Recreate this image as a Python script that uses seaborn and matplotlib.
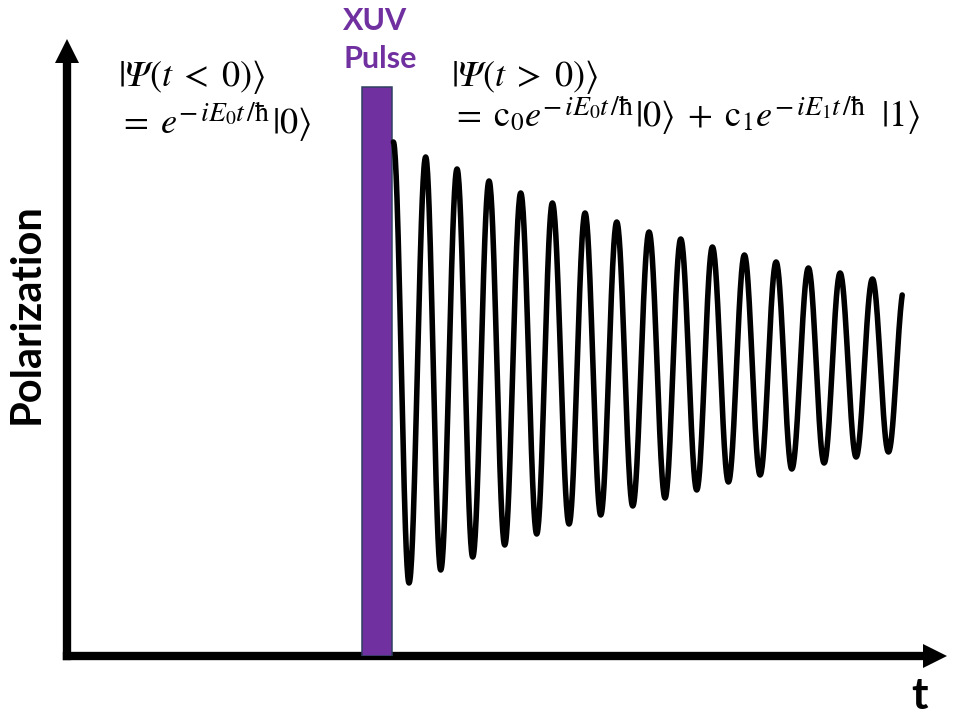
import numpy as np
import pandas as pd
import matplotlib
matplotlib.use("Agg")
import matplotlib.pyplot as plt
import seaborn as sns

# Extrema of the polarization response after the pulse (time in oscillation periods)
peak_t = [0.51, 1.52, 2.50, 3.50, 4.49, 5.48, 6.50, 7.49, 8.50, 9.49, 10.48,
          11.48, 12.47, 13.48, 14.47, 15.48]
peak_p = [5.14, 4.99, 4.87, 4.75, 4.63, 4.53, 4.43, 4.34, 4.24, 4.17, 4.09,
          4.01, 3.94, 3.88, 3.83, 3.77]
trough_t = [1.00, 1.99, 2.99, 3.99, 4.99, 6.00, 6.99, 7.99, 9.00, 9.99, 10.98,
            11.97, 12.96, 13.97, 14.97, 15.98]
trough_p = [0.73, 0.86, 0.99, 1.11, 1.22, 1.32, 1.41, 1.50, 1.58, 1.66, 1.74,
            1.81, 1.87, 1.93, 1.99, 2.04]
end_t, end_p = 16.41, 3.61

# XUV pulse (centred at t = 0)
pulse_t = [0.0]
pulse_height = [5.69]
pulse_width = 0.96

axis_label_y = "Polarization"
axis_label_x = "t"
pulse_label = ["XUV", "Pulse"]

PSI = "\U0001D6F9"          # mathematical italic capital psi
HBAR = r"\mathrm{ħ}"
EXP0 = r"$-\,iE_0t\,/" + HBAR + "$"
EXP1 = r"$-\,iE_1t\,/" + HBAR + "$"
# each piece: (mathtext, size class) where "b" is base text, "s" is exponent
state_before = [
    [(r"$|" + PSI + r"(t\;<\;0)\rangle$", "b")],
    [(r"$=\;e$", "b"), (EXP0, "s"), (r"$|0\rangle$", "b")],
]
state_after = [
    [(r"$|" + PSI + r"(t\;>\;0)\rangle$", "b")],
    [(r"$=\;\mathrm{c}_0e$", "b"), (EXP0, "s"),
     (r"$|0\rangle\;+\;\mathrm{c}_1e$", "b"),
     (EXP1, "s"), (r"$\;\;|1\rangle$", "b")],
]

PURPLE = "#7030A0"

sns.set_theme(style="white")
plt.rcParams["font.family"] = ["Lato", "DejaVu Sans"]
plt.rcParams["mathtext.fontset"] = "stix"

W, H = 956, 717
fig = plt.figure(figsize=(W / 100, H / 100), dpi=100)


def fx(px):
    return px / W


def fy(py):
    return 1 - py / H


ax = fig.add_axes([fx(67), fy(656), fx(923) - fx(67), fy(62.7) - fy(656)])
ax.set_xlim(-9.6875, 17.06)
ax.set_ylim(0, 5.933)
ax.set_xticks([])
ax.set_yticks([])
sns.despine(ax=ax, top=True, right=True)
for side in ("left", "bottom"):
    ax.spines[side].set_linewidth(6)
    ax.spines[side].set_color("black")
    ax.spines[side].set_capstyle("projecting")
ax.patch.set_alpha(0)

# Arrowheads on the two axes
ax.plot([-9.6875], [6.055], marker="^", ms=17.3, color="black",
        mew=0, clip_on=False)
ax.plot([17.45], [0.0], marker=">", ms=17.3, color="black",
        mew=0, clip_on=False)

# Pulse bar
ax.bar(pulse_t, pulse_height, width=pulse_width, color=PURPLE,
       edgecolor="#2F4060", linewidth=1.1, zorder=3)

# Build the oscillation as half-cosine arcs between successive extrema
ext_t, ext_p = [], []
for i in range(len(peak_t)):
    ext_t += [peak_t[i], trough_t[i]]
    ext_p += [peak_p[i], trough_p[i]]

ts, ps = [], []
s = np.linspace(0, 1, 40)
for i in range(len(ext_t) - 1):
    t0, t1 = ext_t[i], ext_t[i + 1]
    p0, p1 = ext_p[i], ext_p[i + 1]
    ts.append(t0 + s * (t1 - t0))
    ps.append(p0 + (p1 - p0) * (1 - np.cos(np.pi * s)) / 2)
# final partial rise up to the last point
half = np.median(np.diff(ext_t))
frac = (end_t - ext_t[-1]) / half
rise = (end_p - ext_p[-1]) / ((1 - np.cos(np.pi * frac)) / 2)
ts.append(ext_t[-1] + s * (end_t - ext_t[-1]))
ps.append(ext_p[-1] + rise * (1 - np.cos(np.pi * s * frac)) / 2)

curve = pd.DataFrame({"t": np.concatenate(ts), "P": np.concatenate(ps)})
sns.lineplot(data=curve, x="t", y="P", ax=ax, color="black", lw=4,
             sort=False, estimator=None, zorder=4)
ax.set_xlabel("")
ax.set_ylabel("")

# Labels
fig.text(fx(27), fy(314), axis_label_y, rotation=90, ha="center",
         va="center", fontsize=30, fontweight="bold", color="black")
fig.text(fx(920), fy(696), axis_label_x, ha="center", va="center",
         fontsize=32, fontweight="bold", color="black")
fig.text(fx(343), fy(30), pulse_label[0], ha="left", va="baseline",
         fontsize=22, fontweight="bold", color=PURPLE)
fig.text(fx(343), fy(68), pulse_label[1], ha="left", va="baseline",
         fontsize=22, fontweight="bold", color=PURPLE)

# State equations, laid out piece by piece so the exponents stay large
renderer = fig.canvas.get_renderer()
SIZES = {"b": 26, "s": 20}


def write_line(x_px, base_px, pieces, lift):
    x = x_px
    for txt, kind in pieces:
        dy = lift if kind == "s" else 0
        t = fig.text(fx(x), fy(base_px - dy), txt, ha="left",
                     va="baseline", fontsize=SIZES[kind], color="black")
        x += t.get_window_extent(renderer).width + 1


write_line(118, 86, state_before[0], 0)
write_line(118, 133, state_before[1], 12)
write_line(451, 86, state_after[0], 0)
write_line(451, 126, state_after[1], 11)

fig.savefig("out.png", dpi=100, facecolor="white")
